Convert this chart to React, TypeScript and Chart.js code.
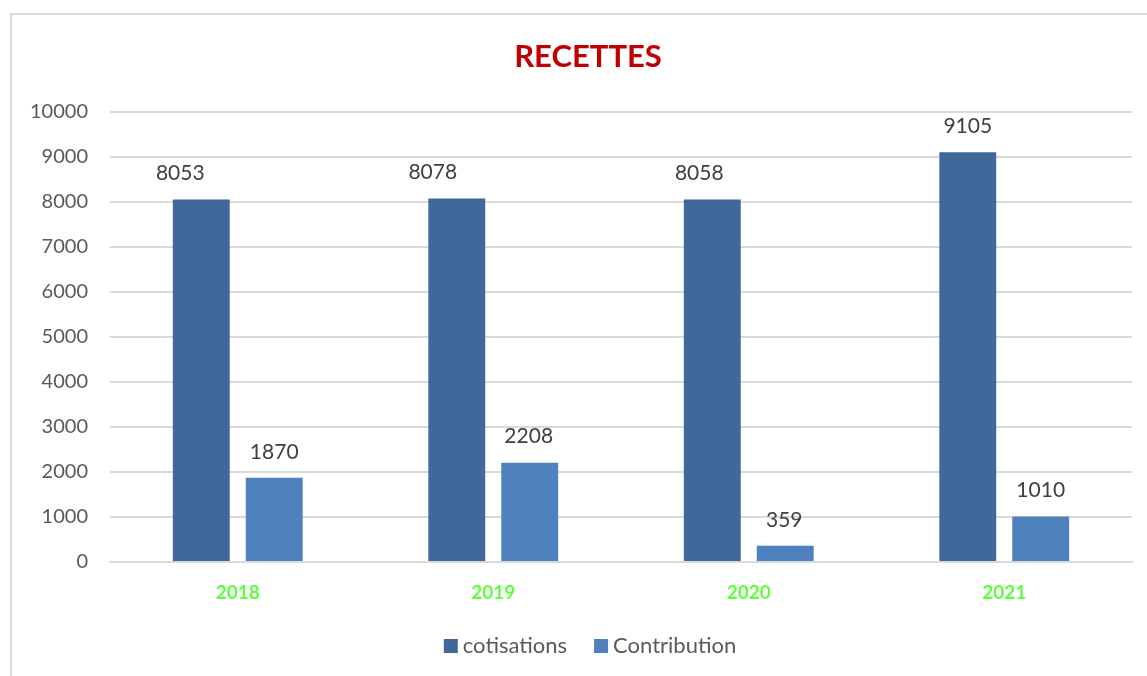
import React, { useEffect, useRef } from "react";
import { Chart, registerables } from "chart.js";

Chart.register(...registerables);

const categories = ["2018", "2019", "2020", "2021"];
const cotisations = [8053, 8078, 8058, 9105];
const contribution = [1870, 2208, 359, 1010];
const seriesNames = ["cotisations", "Contribution"];
const seriesColors = ["#40689A", "#4F81BD"];
const titleText = "RECETTES";

const FONT = "Lato, 'Open Sans', sans-serif";

// horizontal nudges of the value labels (style only, as positioned in the original)
const labelNudges = [
  [-21, -24, -13, 0],
  [0, -1, -1, 0],
];

const CENTER_X = 588;

const decorations = {
  id: "decorations",
  afterDatasetsDraw(chart: any) {
    const ctx = chart.ctx;
    ctx.save();
    // value labels
    ctx.font = `21px ${FONT}`;
    ctx.fillStyle = "#404040";
    ctx.textAlign = "center";
    ctx.textBaseline = "middle";
    chart.data.datasets.forEach((ds: any, i: number) => {
      const meta = chart.getDatasetMeta(i);
      meta.data.forEach((bar: any, j: number) => {
        ctx.fillText(String(ds.data[j]), bar.x + labelNudges[i][j], bar.y - 26);
      });
    });
    // title
    ctx.font = `bold 31px ${FONT}`;
    ctx.fillStyle = "#C00000";
    ctx.fillText(titleText, CENTER_X, 57);
    // legend
    ctx.font = `22px ${FONT}`;
    ctx.textAlign = "left";
    const box = 14, gap = 5, itemGap = 27;
    const widths = chart.data.datasets.map((ds: any) => box + gap + ctx.measureText(ds.label).width);
    const total = widths.reduce((a: number, b: number) => a + b, 0) + itemGap * (widths.length - 1);
    let x = CENTER_X + 2 - total / 2;
    const y = 646;
    chart.data.datasets.forEach((ds: any, i: number) => {
      ctx.fillStyle = ds.backgroundColor;
      ctx.fillRect(x, y - box / 2, box, box);
      ctx.fillStyle = "#595959";
      ctx.fillText(ds.label, x + box + gap, y);
      x += widths[i] + itemGap;
    });
    ctx.restore();
  },
};

export default function App() {
  const ref = useRef<HTMLCanvasElement>(null);
  useEffect(() => {
    document.body.style.margin = "0";
    document.body.style.overflow = "hidden";
    const chart = new Chart(ref.current!, {
      type: "bar",
      data: {
        labels: categories,
        datasets: [
          {
            label: seriesNames[0],
            data: cotisations,
            backgroundColor: seriesColors[0],
            categoryPercentage: 0.571,
            barPercentage: 0.78,
          },
          {
            label: seriesNames[1],
            data: contribution,
            backgroundColor: seriesColors[1],
            categoryPercentage: 0.571,
            barPercentage: 0.78,
          },
        ],
      },
      options: {
        responsive: false,
        animation: false,
        layout: { padding: { left: 10, right: 15, top: 112, bottom: 0 } },
        plugins: {
          title: { display: false },
          legend: { display: false },
          tooltip: { enabled: false },
        },
        scales: {
          x: {
            grid: { display: false, drawTicks: false },
            border: { color: "#D9D9D9", width: 2 },
            ticks: {
              color: "#5CFF3A",
              font: { family: FONT, size: 19, weight: "bold" },
              padding: 19,
            },
            afterFit(scale: any) {
              scale.height = 114;
            },
          },
          y: {
            min: 0,
            max: 10000,
            grid: { color: "#D9D9D9", lineWidth: 2, drawTicks: false },
            border: { display: false },
            ticks: {
              stepSize: 1000,
              color: "#595959",
              font: { family: FONT, size: 20 },
              padding: 22,
              callback: (v: any) => String(v),
            },
            afterFit(scale: any) {
              scale.width = 100;
            },
          },
        },
      },
      plugins: [decorations],
    });
    return () => chart.destroy();
  }, []);
  return (
    <div style={{ position: "relative", width: 1147, height: 676 }}>
      <div
        style={{
          position: "absolute",
          left: 10,
          top: 13,
          width: 1160,
          height: 700,
          border: "2px solid #D9D9D9",
          boxSizing: "border-box",
        }}
      />
      <canvas ref={ref} width={1147} height={676} style={{ position: "absolute", left: 0, top: 0 }} />
    </div>
  );
}
